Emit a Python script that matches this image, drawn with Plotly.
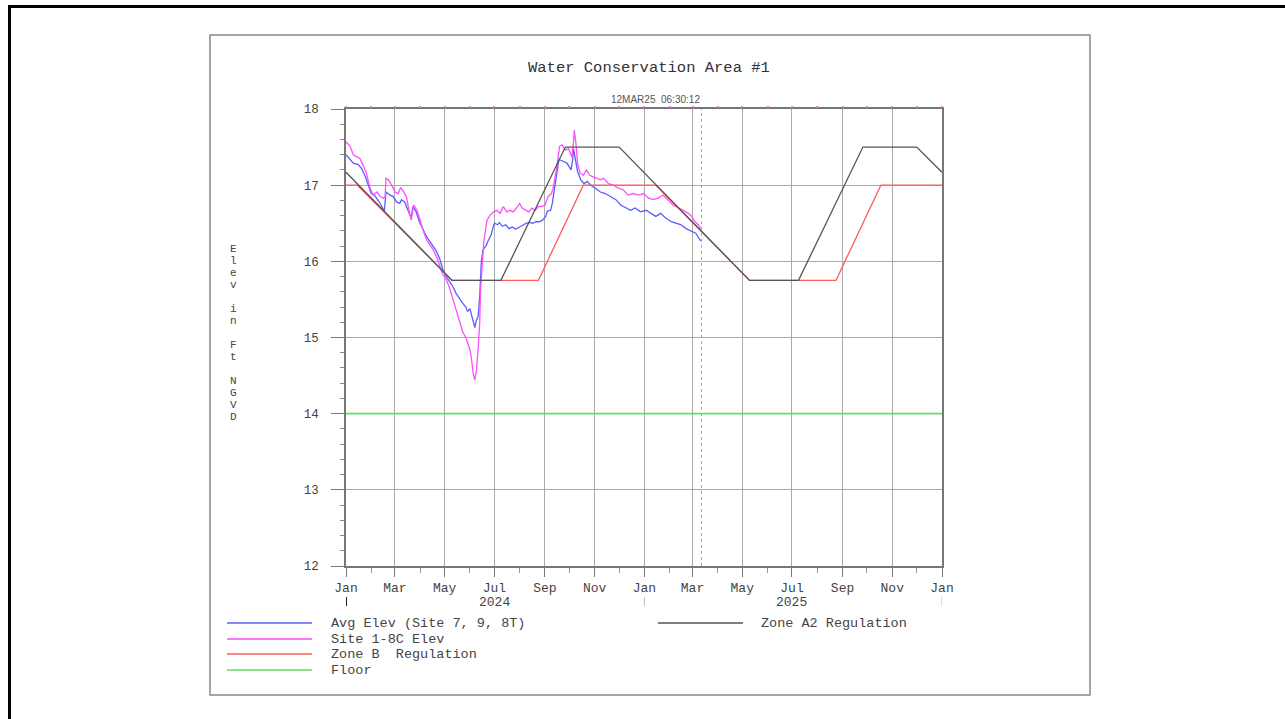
import plotly.graph_objects as go

# ---------------- data ----------------
avg_dates = ["2024-01-01","2024-01-05","2024-01-10","2024-01-16","2024-01-20","2024-01-24","2024-01-28","2024-02-01","2024-02-05","2024-02-09","2024-02-13","2024-02-17","2024-02-19","2024-02-24","2024-02-28","2024-03-03","2024-03-07","2024-03-09","2024-03-13","2024-03-17","2024-03-21","2024-03-23","2024-03-27","2024-03-31","2024-04-04","2024-04-09","2024-04-13","2024-04-17","2024-04-21","2024-04-25","2024-04-29","2024-05-03","2024-05-07","2024-05-11","2024-05-15","2024-05-19","2024-05-23","2024-05-27","2024-05-29","2024-06-01","2024-06-03","2024-06-05","2024-06-07","2024-06-09","2024-06-11","2024-06-13","2024-06-14","2024-06-15","2024-06-17","2024-06-21","2024-06-23","2024-06-27","2024-06-29","2024-07-01","2024-07-05","2024-07-07","2024-07-11","2024-07-15","2024-07-19","2024-07-23","2024-07-27","2024-08-01","2024-08-05","2024-08-09","2024-08-13","2024-08-17","2024-08-21","2024-08-25","2024-08-29","2024-09-02","2024-09-04","2024-09-08","2024-09-10","2024-09-12","2024-09-14","2024-09-16","2024-09-18","2024-09-20","2024-09-24","2024-09-28","2024-10-03","2024-10-05","2024-10-06","2024-10-08","2024-10-11","2024-10-15","2024-10-19","2024-10-23","2024-10-27","2024-11-02","2024-11-08","2024-11-14","2024-11-20","2024-11-27","2024-12-03","2024-12-09","2024-12-15","2024-12-21","2024-12-27","2025-01-03","2025-01-09","2025-01-15","2025-01-21","2025-01-27","2025-02-03","2025-02-09","2025-02-15","2025-02-21","2025-02-28","2025-03-05","2025-03-09","2025-03-11"]
avg_vals = [17.40,17.35,17.29,17.27,17.22,17.13,17.02,16.89,16.87,16.81,16.74,16.66,16.91,16.87,16.85,16.78,16.76,16.81,16.78,16.67,16.57,16.72,16.65,16.52,16.43,16.32,16.26,16.19,16.13,16.03,15.89,15.80,15.73,15.67,15.58,15.51,15.45,15.40,15.34,15.38,15.30,15.23,15.13,15.23,15.27,15.54,15.84,16.00,16.15,16.21,16.26,16.35,16.43,16.50,16.48,16.51,16.46,16.48,16.43,16.45,16.42,16.45,16.48,16.50,16.51,16.50,16.52,16.52,16.54,16.59,16.66,16.67,16.76,16.89,17.05,17.20,17.33,17.33,17.31,17.29,17.20,17.33,17.48,17.37,17.18,17.07,17.02,17.05,17.00,16.96,16.91,16.89,16.85,16.81,16.74,16.70,16.67,16.70,16.65,16.67,16.63,16.59,16.63,16.57,16.52,16.50,16.48,16.43,16.39,16.37,16.30,16.27]

site_dates = ["2024-01-01","2024-01-06","2024-01-10","2024-01-14","2024-01-18","2024-01-22","2024-01-26","2024-01-30","2024-02-03","2024-02-08","2024-02-12","2024-02-16","2024-02-18","2024-02-19","2024-02-22","2024-02-26","2024-03-01","2024-03-05","2024-03-08","2024-03-12","2024-03-15","2024-03-19","2024-03-21","2024-03-24","2024-03-28","2024-04-01","2024-04-05","2024-04-09","2024-04-13","2024-04-17","2024-04-21","2024-04-25","2024-04-29","2024-05-03","2024-05-07","2024-05-11","2024-05-15","2024-05-19","2024-05-23","2024-05-28","2024-06-01","2024-06-03","2024-06-05","2024-06-07","2024-06-09","2024-06-11","2024-06-13","2024-06-14","2024-06-16","2024-06-18","2024-06-20","2024-06-22","2024-06-26","2024-06-30","2024-07-04","2024-07-08","2024-07-12","2024-07-16","2024-07-20","2024-07-24","2024-07-28","2024-08-01","2024-08-04","2024-08-08","2024-08-12","2024-08-16","2024-08-20","2024-08-24","2024-08-28","2024-09-01","2024-09-05","2024-09-09","2024-09-11","2024-09-15","2024-09-19","2024-09-22","2024-09-26","2024-09-30","2024-10-04","2024-10-06","2024-10-07","2024-10-09","2024-10-11","2024-10-14","2024-10-18","2024-10-22","2024-10-26","2024-10-30","2024-11-03","2024-11-08","2024-11-12","2024-11-18","2024-11-24","2024-11-30","2024-12-06","2024-12-12","2024-12-18","2024-12-25","2024-12-31","2025-01-06","2025-01-12","2025-01-18","2025-01-24","2025-01-30","2025-02-05","2025-02-12","2025-02-18","2025-02-24","2025-02-28","2025-03-04","2025-03-08","2025-03-11"]
site_vals = [17.57,17.51,17.40,17.37,17.35,17.26,17.16,16.98,16.87,16.91,16.85,16.83,16.85,17.09,17.07,17.00,16.91,16.89,16.97,16.91,16.85,16.63,16.54,16.74,16.67,16.54,16.39,16.28,16.21,16.15,16.06,15.95,15.82,15.76,15.65,15.51,15.36,15.21,15.08,14.97,14.84,14.71,14.53,14.44,14.57,14.84,15.19,15.62,16.02,16.25,16.41,16.54,16.61,16.65,16.67,16.63,16.72,16.65,16.67,16.65,16.70,16.76,16.70,16.67,16.65,16.70,16.67,16.72,16.72,16.74,16.85,16.89,16.96,17.20,17.51,17.53,17.46,17.48,17.37,17.55,17.72,17.55,17.29,17.16,17.13,17.20,17.13,17.11,17.09,17.07,17.09,17.02,17.00,16.96,16.94,16.87,16.89,16.87,16.89,16.83,16.81,16.83,16.87,16.81,16.74,16.70,16.67,16.63,16.59,16.52,16.48,16.43]

zone_b_dates = ["2024-01-01","2024-01-15","2024-05-10","2024-08-24","2024-10-18","2025-01-15","2025-05-10","2025-08-24","2025-10-18","2026-01-01"]
zone_b_vals = [17.0,17.0,15.75,15.75,17.0,17.0,15.75,15.75,17.0,17.0]

zone_a2_dates = ["2024-01-01","2024-05-10","2024-07-09","2024-09-26","2024-12-01","2025-05-10","2025-07-09","2025-09-26","2025-12-01","2026-01-01"]
zone_a2_vals = [17.17,15.75,15.75,17.50,17.50,15.75,15.75,17.50,17.50,17.17]

floor_dates = ["2024-01-01","2026-01-01"]
floor_vals = [14.0,14.0]

series_names = ["Avg Elev (Site 7, 9, 8T)", "Site 1-8C Elev", "Zone B  Regulation", "Floor", "Zone A2 Regulation"]
series_colors = ["#5c5cff", "#ff4dff", "#ff5c5c", "#66dd66", "#555555"]

x_range = ["2024-01-01", "2026-01-01"]
y_range = [12, 18]
current_date = "2025-03-12"
year_labels = ["2024", "2025"]
year_label_dates = ["2024-07-01", "2025-07-01"]
year_starts = ["2024-01-01", "2025-01-01", "2026-01-01"]

title_text = "Water Conservation Area #1"
stamp_text = "12MAR25  06:30:12"
ytitle_text = "Elev in Ft NGVD"

# ---------------- layout helpers (pixel -> paper) ----------------
W, H = 1285, 719
PL, PR, PT, PB = 346, 942, 109, 566
def px(x):
    return (x - PL) / (PR - PL)
def py(y):
    return (PB - y) / (PB - PT)

MONO = "Courier New, Liberation Mono, monospace"
TXT = "#444444"

fig = go.Figure()
all_x = [avg_dates, site_dates, zone_b_dates, floor_dates, zone_a2_dates]
all_y = [avg_vals, site_vals, zone_b_vals, floor_vals, zone_a2_vals]
widths = [1.3, 1.3, 1.3, 1.6, 1.3]
for i, (xs, ys) in enumerate(zip(all_x, all_y)):
    fig.add_trace(go.Scatter(
        x=xs, y=ys, mode="lines", name=series_names[i],
        line=dict(color=series_colors[i], width=widths[i]),
        xaxis="x2" if series_names[i] == "Floor" else "x",
        showlegend=False,
    ))

shapes = []
# outer page frame (left/top visible) and inner box
shapes.append(dict(type="rect", xref="paper", yref="paper", x0=px(9.5), x1=px(1300), y0=py(740), y1=py(6.5),
                   line=dict(color="black", width=3), layer="below"))
shapes.append(dict(type="rect", xref="paper", yref="paper", x0=px(210), x1=px(1090), y0=py(695), y1=py(35),
                   line=dict(color="#888888", width=1.5), layer="below"))
# current date dashed line
shapes.append(dict(type="line", xref="x", yref="paper", x0=current_date, x1=current_date, y0=0, y1=1,
                   line=dict(color="#aaaaaa", width=1, dash="3px,3px")))
# year separators
for i, d in enumerate(year_starts):
    shapes.append(dict(type="line", xref="x", yref="paper", x0=d, x1=d, y0=py(606), y1=py(597),
                       line=dict(color="#222222" if i == 0 else "#bbbbbb", width=2 if i == 0 else 1)))

annotations = []
annotations.append(dict(text=title_text, xref="paper", yref="paper", x=px(649), y=py(68), showarrow=False,
                        xanchor="center", yanchor="middle", font=dict(family=MONO, size=15.5, color="#333333")))
annotations.append(dict(text=stamp_text, xref="paper", yref="paper", x=px(655), y=py(99), showarrow=False,
                        xanchor="center", yanchor="middle", font=dict(family="Liberation Sans, Arial", size=10, color="#555555")))
# vertical stacked y-axis title, one character per row
for k, ch in enumerate(ytitle_text):
    if ch == " ":
        continue
    annotations.append(dict(text=ch, xref="paper", yref="paper", x=px(233), y=py(249 + 12.0 * k), showarrow=False,
                            xanchor="center", yanchor="middle",
                            font=dict(family=MONO, size=11, color=TXT)))
for lab, d in zip(year_labels, year_label_dates):
    annotations.append(dict(text=lab, xref="x", yref="paper", x=d, y=py(602), showarrow=False,
                            xanchor="center", yanchor="middle", font=dict(family=MONO, size=13, color=TXT)))

# custom legend
leg_pos = [(227, 312, 329, 623), (227, 312, 329, 639), (227, 312, 329, 654), (227, 312, 329, 670), (658, 743, 759, 623)]
for i, (x0, x1, xt, yy) in enumerate(leg_pos):
    shapes.append(dict(type="line", xref="paper", yref="paper", x0=px(x0), x1=px(x1), y0=py(yy), y1=py(yy),
                       line=dict(color=series_colors[i], width=1.3)))
    annotations.append(dict(text=series_names[i], xref="paper", yref="paper", x=px(xt), y=py(yy), showarrow=False,
                            xanchor="left", yanchor="middle", font=dict(family=MONO, size=13.5, color=TXT)))

fig.update_layout(
    width=W, height=H,
    margin=dict(l=PL, r=W - PR, t=PT, b=H - PB, pad=0),
    paper_bgcolor="white", plot_bgcolor="white",
    showlegend=False,
    shapes=shapes, annotations=annotations,
    xaxis=dict(
        range=x_range, type="date", tick0="2024-01-01", dtick="M2", tickformat="%b",
        ticks="outside", ticklen=9, tickcolor="#777777", tickwidth=1,
        minor=dict(dtick="M1", tick0="2024-01-01", ticks="outside", ticklen=5, tickcolor="#999999", showgrid=False),
        showgrid=True, gridcolor="#aaaaaa", gridwidth=1,
        showline=True, linecolor="#777777", linewidth=1.5, mirror=True,
        tickfont=dict(family=MONO, size=13, color=TXT),
        zeroline=False,
    ),
    xaxis2=dict(
        range=x_range, type="date", overlaying="x", side="top", tick0="2024-01-01", dtick="M1",
        ticks="outside", ticklen=2, tickcolor="#ff66ff", tickwidth=1.5,
        showticklabels=False, showgrid=False, showline=False, zeroline=False,
    ),
    yaxis=dict(
        range=y_range, dtick=1, tick0=12,
        ticks="outside", ticklen=13, tickcolor="#777777", tickwidth=1,
        minor=dict(dtick=0.2, ticks="outside", ticklen=4, tickcolor="#888888", showgrid=False),
        showgrid=True, gridcolor="#aaaaaa", gridwidth=1,
        showline=True, linecolor="#777777", linewidth=1.5, mirror=True,
        tickfont=dict(family=MONO, size=12.5, color=TXT),
        ticklabelstandoff=10,
        zeroline=False,
    ),
)

fig.write_html("out.html", config={"displayModeBar": False},
               post_script="document.body.style.margin='0';")
